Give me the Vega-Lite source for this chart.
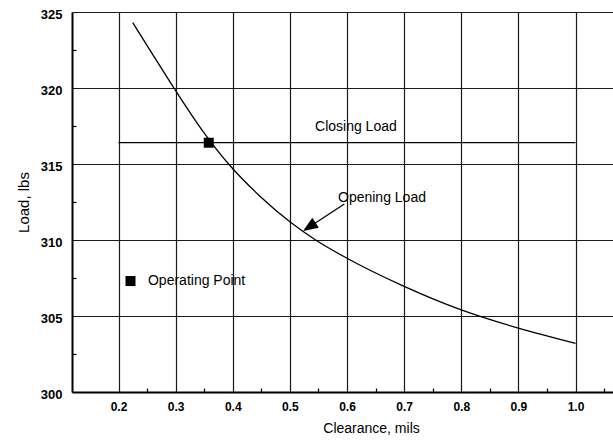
{
  "$schema": "https://vega.github.io/schema/vega-lite/v6.json",
  "width": 541,
  "height": 380,
  "autosize": {"type": "none"},
  "padding": {"left": 72, "top": 12, "right": 0, "bottom": 53},
  "background": "white",
  "config": {
    "view": {"stroke": null},
    "font": "Liberation Sans",
    "axis": {
      "domainColor": "black",
      "gridColor": "#1a1a1a",
      "gridWidth": 1.2,
      "labelColor": "black",
      "titleColor": "black",
      "labelFont": "Liberation Sans",
      "titleFont": "Liberation Sans",
      "labelFontSize": 12,
      "labelFontWeight": "bold",
      "titleFontWeight": "normal"
    }
  },
  "datasets": {
    "curve": [
      {"x": 0.225, "y": 324.3},
      {"x": 0.26, "y": 322.2},
      {"x": 0.297, "y": 320.0},
      {"x": 0.345, "y": 317.3},
      {"x": 0.395, "y": 314.9},
      {"x": 0.45, "y": 312.8},
      {"x": 0.5, "y": 311.2},
      {"x": 0.545, "y": 310.0},
      {"x": 0.6, "y": 308.8},
      {"x": 0.7, "y": 306.95},
      {"x": 0.8, "y": 305.4},
      {"x": 0.9, "y": 304.2},
      {"x": 1.0, "y": 303.2}
    ],
    "closing": [{"x": 0.2, "x2": 1.0, "y": 316.4}],
    "squares": [
      {"x": 0.358, "y": 316.4},
      {"x": 0.221, "y": 307.3}
    ],
    "labels": [
      {"x": 0.544, "y": 317.45, "text": "Closing Load"},
      {"x": 0.5842, "y": 312.76, "text": "Opening Load"},
      {"x": 0.2516, "y": 307.3, "text": "Operating Point"}
    ],
    "arrowline": [
      {"x": 0.5953, "y": 312.37},
      {"x": 0.534, "y": 310.86}
    ],
    "arrowhead": [{"x": 0.534, "y": 310.86, "angle": 236.8}]
  },
  "layer": [
    {
      "data": {"name": "curve"},
      "mark": {"type": "line", "interpolate": "monotone", "color": "black", "strokeWidth": 1.3},
      "encoding": {
        "x": {
          "field": "x", "type": "quantitative",
          "scale": {"domain": [0.1186, 1.0656], "nice": false, "zero": false},
          "axis": {
            "values": [0.2, 0.3, 0.4, 0.5, 0.6, 0.7, 0.8, 0.9, 1.0],
            "format": ".1f", "grid": true, "ticks": false, "domain": true,
            "domainWidth": 2, "labelPadding": 9, "labelFlush": false,
            "title": "Clearance, mils", "titleFontSize": 14, "titlePadding": 9, "titleX": 299
          }
        },
        "y": {
          "field": "y", "type": "quantitative",
          "scale": {"domain": [300, 325], "nice": false, "zero": false},
          "axis": {
            "values": [300, 305, 310, 315, 320, 325],
            "grid": true, "ticks": false, "domain": true, "domainWidth": 2,
            "labelPadding": 10, "labelOffset": 2.5, "labelFontSize": 13,
            "title": "Load, lbs", "titleFontSize": 15, "titlePadding": 9
          }
        }
      }
    },
    {
      "data": {"name": "curve"},
      "mark": {"type": "point", "opacity": 0},
      "encoding": {
        "x": {
          "field": "x", "type": "quantitative",
          "scale": {"domain": [0.1186, 1.0656], "nice": false, "zero": false},
          "axis": {
            "orient": "bottom",
            "values": [0.25, 0.35, 0.45, 0.55, 0.65, 0.75, 0.85, 0.95, 1.05],
            "grid": false, "labels": false, "domain": false, "ticks": true,
            "tickSize": -4, "tickColor": "black", "tickWidth": 1.2, "title": null
          }
        },
        "y": {
          "field": "y", "type": "quantitative",
          "scale": {"domain": [300, 325], "nice": false, "zero": false},
          "axis": {
            "orient": "left",
            "values": [302.5, 307.5, 312.5, 317.5, 322.5],
            "grid": false, "labels": false, "domain": false, "ticks": true,
            "tickSize": -4, "tickColor": "black", "tickWidth": 1.2, "title": null
          }
        }
      }
    },
    {
      "data": {"name": "closing"},
      "mark": {"type": "rule", "color": "black", "strokeWidth": 1.3},
      "encoding": {
        "x": {"field": "x", "type": "quantitative", "scale": {"domain": [0.1186, 1.0656], "nice": false, "zero": false}, "axis": null},
        "x2": {"field": "x2"},
        "y": {"field": "y", "type": "quantitative", "scale": {"domain": [300, 325], "nice": false, "zero": false}, "axis": null}
      }
    },
    {
      "data": {"name": "squares"},
      "mark": {"type": "point", "shape": "square", "filled": true, "color": "black", "opacity": 1, "size": 100},
      "encoding": {
        "x": {"field": "x", "type": "quantitative", "scale": {"domain": [0.1186, 1.0656], "nice": false, "zero": false}, "axis": null},
        "y": {"field": "y", "type": "quantitative", "scale": {"domain": [300, 325], "nice": false, "zero": false}, "axis": null}
      }
    },
    {
      "data": {"name": "labels"},
      "mark": {"type": "text", "align": "left", "baseline": "middle", "fontSize": 14, "font": "Liberation Sans", "color": "black"},
      "encoding": {
        "x": {"field": "x", "type": "quantitative", "scale": {"domain": [0.1186, 1.0656], "nice": false, "zero": false}, "axis": null},
        "y": {"field": "y", "type": "quantitative", "scale": {"domain": [300, 325], "nice": false, "zero": false}, "axis": null},
        "text": {"field": "text"}
      }
    },
    {
      "data": {"name": "arrowline"},
      "mark": {"type": "line", "color": "black", "strokeWidth": 1.3},
      "encoding": {
        "x": {"field": "x", "type": "quantitative", "scale": {"domain": [0.1186, 1.0656], "nice": false, "zero": false}, "axis": null},
        "y": {"field": "y", "type": "quantitative", "scale": {"domain": [300, 325], "nice": false, "zero": false}, "axis": null}
      }
    },
    {
      "data": {"name": "arrowhead"},
      "mark": {"type": "point", "shape": "M0,-1L0.8,1L-0.8,1Z", "filled": true, "color": "black", "opacity": 1, "size": 225},
      "encoding": {
        "x": {"field": "x", "type": "quantitative", "scale": {"domain": [0.1186, 1.0656], "nice": false, "zero": false}, "axis": null},
        "y": {"field": "y", "type": "quantitative", "scale": {"domain": [300, 325], "nice": false, "zero": false}, "axis": null},
        "angle": {"field": "angle", "type": "quantitative", "scale": null}
      }
    }
  ],
  "resolve": {"axis": {"x": "independent", "y": "independent"}}
}
